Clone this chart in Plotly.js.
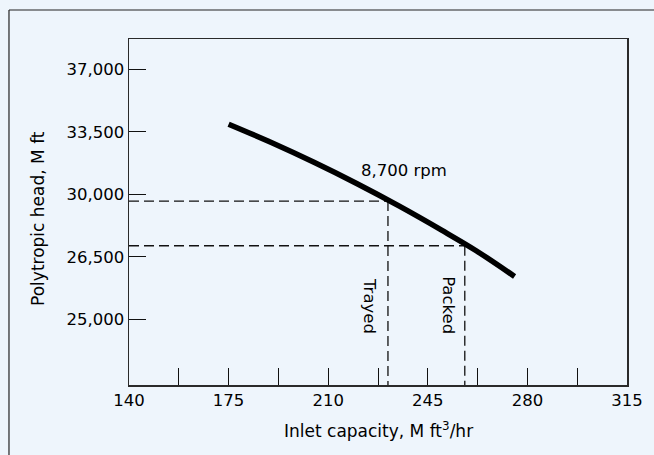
<!DOCTYPE html>
<html>
<head>
<meta charset="utf-8">
<script src="https://cdn.plot.ly/plotly-3.0.1.min.js"></script>
<style>
html,body{margin:0;padding:0;background:#eef5fc;}
#chart{width:654px;height:455px;}
</style>
</head>
<body>
<div id="chart"></div>
<script>
// Curve: 8,700 rpm (inlet capacity, M ft3/hr vs polytropic head in the axis' linear units)
const capacity = [175, 190, 205, 220, 235, 250, 262, 275.5];
const head = [33926, 32901, 31792, 30605, 29334, 27978, 26842, 25400];

// Operating points
const trayedCap = 231;
const trayedHead = 29620;
const packedCap = 258;
const packedHead = 27120;

// Axis ticks
const xTickVals = [140, 175, 210, 245, 280, 315];
const xTickText = ["140", "175", "210", "245", "280", "315"];
const yTickVals = [23000, 26500, 30000, 33500, 37000];
const yTickText = ["25,000", "26,500", "30,000", "33,500", "37,000"];

const xRange = [140, 315];
const yRange = [19321, 38697];

const font = "DejaVu Sans, Verdana, sans-serif";
const ink = "#000";
const dashStyle = {color: "#111", width: 1.3, dash: "10px,5px"};

const traces = [
  {x: [xRange[0], trayedCap], y: [trayedHead, trayedHead], mode: "lines", line: dashStyle, hoverinfo: "skip"},
  {x: [trayedCap, trayedCap], y: [trayedHead, yRange[0]], mode: "lines", line: dashStyle, hoverinfo: "skip"},
  {x: [xRange[0], packedCap], y: [packedHead, packedHead], mode: "lines", line: dashStyle, hoverinfo: "skip"},
  {x: [packedCap, packedCap], y: [packedHead, yRange[0]], mode: "lines", line: dashStyle, hoverinfo: "skip"},
  {x: capacity, y: head, mode: "lines", line: {color: "#000", width: 5.5, shape: "spline"}, hoverinfo: "skip"}
];

const layout = {
  width: 654, height: 455,
  paper_bgcolor: "#eef5fc",
  plot_bgcolor: "#eef5fc",
  showlegend: false,
  margin: {l: 129, r: 27, t: 39, b: 70},
  font: {family: font, size: 16.5, color: ink},
  xaxis: {
    range: xRange,
    tickvals: xTickVals, ticktext: xTickText,
    ticks: "inside", ticklen: 17, tickwidth: 1, tickcolor: "#111",
    minor: {dtick: 17.5, tick0: 140, ticks: "inside", ticklen: 17, tickwidth: 1, tickcolor: "#111", showgrid: false},
    showgrid: false, zeroline: false,
    showline: true, mirror: true, linecolor: "#2a2a2a", linewidth: 1.5,
    tickfont: {family: font, size: 16.5, color: ink}
  },
  yaxis: {
    range: yRange,
    tickvals: yTickVals, ticktext: yTickText,
    ticks: "inside", ticklen: 17, tickwidth: 1, tickcolor: "#111",
    showgrid: false, zeroline: false,
    showline: true, mirror: true, linecolor: "#2a2a2a", linewidth: 1.5,
    tickfont: {family: font, size: 16.5, color: ink}
  },
  annotations: [
    {x: 0.5, y: -0.130, xref: "paper", yref: "paper", text: "Inlet capacity, M ft<sup>3</sup>/hr", showarrow: false,
     xanchor: "center", yanchor: "middle", font: {family: font, size: 17, color: ink}},
    {x: -0.1827, y: 0.48, xref: "paper", yref: "paper", text: "Polytropic head, M ft", textangle: -90, showarrow: false,
     xanchor: "center", yanchor: "middle", font: {family: font, size: 17, color: ink}},
    {x: 236.6, y: 31361, xref: "x", yref: "y", text: "8,700 rpm", showarrow: false, font: {family: font, size: 16.5, color: ink}},
    {x: 224.7, y: 23745, xref: "x", yref: "y", text: "Trayed", textangle: 90, showarrow: false, font: {family: font, size: 16.5, color: ink}},
    {x: 252.4, y: 23800, xref: "x", yref: "y", text: "Packed", textangle: 90, showarrow: false, font: {family: font, size: 16.5, color: ink}}
  ],
  shapes: [
    {type: "line", xref: "paper", yref: "paper", x0: -0.241, x1: -0.241, y0: 1.0838, y1: -0.3, line: {color: "#222", width: 1.2}},
    {type: "line", xref: "paper", yref: "paper", x0: -0.241, x1: 1.1, y0: 1.0838, y1: 1.0838, line: {color: "#222", width: 1.2}}
  ]
};

Plotly.newPlot("chart", traces, layout, {displayModeBar: false, staticPlot: true});
</script>
</body>
</html>
